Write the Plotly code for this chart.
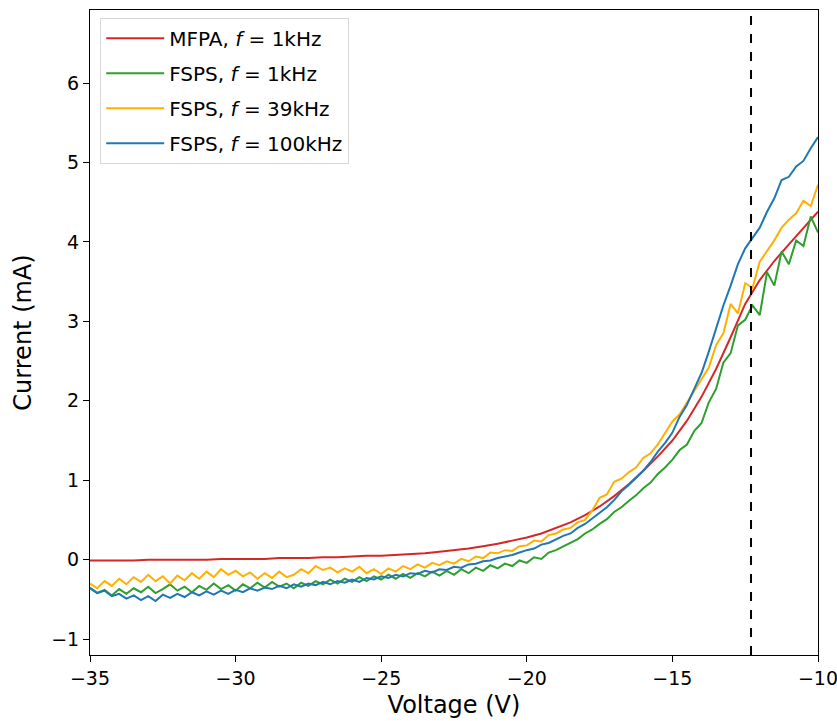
import numpy as np
import plotly.graph_objects as go

# sweep grid of the probes (V)
voltage = np.linspace(-35, -10, 101)
voltage_mfpa = np.linspace(-35, -10, 51)

mfpa_1k = [-0.01, -0.01, -0.01, -0.01, 0.00, 0.00, 0.00, 0.00, 0.00, 0.01,
           0.01, 0.01, 0.01, 0.02, 0.02, 0.02, 0.03, 0.03, 0.04, 0.05,
           0.05, 0.06, 0.07, 0.08, 0.10, 0.12, 0.14, 0.17, 0.20, 0.24,
           0.28, 0.33, 0.40, 0.47, 0.56, 0.67, 0.80, 0.95, 1.12, 1.30,
           1.50, 1.75, 2.05, 2.40, 2.80, 3.22, 3.52, 3.76, 3.97, 4.17,
           4.38]

fsps_1k = [-0.35, -0.42, -0.38, -0.45, -0.37, -0.43, -0.36, -0.41, -0.34, -0.42,
           -0.37, -0.31, -0.39, -0.34, -0.41, -0.33, -0.38, -0.30, -0.37, -0.32,
           -0.39, -0.31, -0.36, -0.29, -0.35, -0.28, -0.34, -0.30, -0.36, -0.29,
           -0.33, -0.27, -0.31, -0.25, -0.30, -0.24, -0.28, -0.22, -0.27, -0.21,
           -0.25, -0.19, -0.24, -0.18, -0.23, -0.17, -0.21, -0.15, -0.20, -0.14,
           -0.19, -0.12, -0.17, -0.10, -0.14, -0.07, -0.11, -0.05, -0.08, -0.01,
           -0.04, 0.03, 0.01, 0.09, 0.12, 0.17, 0.21, 0.26, 0.33, 0.38,
           0.45, 0.51, 0.60, 0.66, 0.74, 0.81, 0.90, 0.97, 1.08, 1.16,
           1.26, 1.38, 1.45, 1.62, 1.72, 1.98, 2.15, 2.48, 2.60, 2.95,
           3.02, 3.20, 3.08, 3.62, 3.45, 3.88, 3.72, 4.02, 3.95, 4.32,
           4.12]

fsps_39k = [-0.30, -0.36, -0.27, -0.33, -0.24, -0.31, -0.22, -0.28, -0.19, -0.27,
            -0.21, -0.30, -0.20, -0.26, -0.17, -0.24, -0.15, -0.22, -0.12, -0.19,
            -0.14, -0.21, -0.16, -0.24, -0.17, -0.23, -0.15, -0.22, -0.19, -0.12,
            -0.17, -0.08, -0.13, -0.10, -0.16, -0.11, -0.15, -0.09, -0.17, -0.12,
            -0.18, -0.11, -0.15, -0.08, -0.12, -0.06, -0.10, -0.04, -0.07, -0.02,
            -0.05, 0.01, -0.02, 0.04, 0.02, 0.09, 0.08, 0.12, 0.11, 0.17,
            0.18, 0.24, 0.23, 0.31, 0.33, 0.38, 0.40, 0.47, 0.50, 0.62,
            0.78, 0.82, 0.98, 1.02, 1.10, 1.16, 1.28, 1.34, 1.45, 1.60,
            1.74, 1.83, 1.98, 2.12, 2.28, 2.42, 2.70, 2.85, 3.22, 3.10,
            3.48, 3.42, 3.75, 3.88, 4.02, 4.18, 4.28, 4.36, 4.52, 4.45,
            4.72]

fsps_100k = [-0.36, -0.42, -0.39, -0.46, -0.43, -0.49, -0.45, -0.51, -0.46, -0.52,
             -0.44, -0.48, -0.43, -0.47, -0.41, -0.45, -0.40, -0.44, -0.39, -0.43,
             -0.38, -0.41, -0.36, -0.39, -0.35, -0.37, -0.33, -0.36, -0.31, -0.34,
             -0.30, -0.32, -0.28, -0.31, -0.27, -0.29, -0.25, -0.28, -0.23, -0.25,
             -0.21, -0.23, -0.19, -0.21, -0.17, -0.18, -0.14, -0.16, -0.12, -0.13,
             -0.09, -0.10, -0.06, -0.05, -0.02, -0.01, 0.02, 0.04, 0.06, 0.09,
             0.12, 0.14, 0.19, 0.21, 0.26, 0.30, 0.33, 0.40, 0.45, 0.52,
             0.58, 0.66, 0.75, 0.86, 0.94, 1.03, 1.12, 1.23, 1.36, 1.47,
             1.60, 1.80, 1.95, 2.15, 2.35, 2.62, 2.92, 3.20, 3.45, 3.72,
             3.92, 4.05, 4.18, 4.38, 4.55, 4.78, 4.82, 4.95, 5.02, 5.18,
             5.32]

threshold_voltage = -12.3

fig = go.Figure()
fig.add_trace(go.Scatter(x=voltage_mfpa, y=mfpa_1k, mode="lines",
                         name="MFPA, <i>f</i> = 1kHz", legendgroup="a",
                         line=dict(color="#d62728", width=2)))
fig.add_trace(go.Scatter(x=voltage, y=fsps_1k, mode="lines",
                         name="FSPS, <i>f</i> = 1kHz", legendgroup="b",
                         line=dict(color="#2ca02c", width=2)))
fig.add_trace(go.Scatter(x=voltage, y=fsps_39k, mode="lines",
                         name="FSPS, <i>f</i> = 39kHz", legendgroup="c",
                         line=dict(color="#ffb000", width=2)))
fig.add_trace(go.Scatter(x=voltage, y=fsps_100k, mode="lines",
                         name="FSPS, <i>f</i> = 100kHz", legendgroup="d",
                         line=dict(color="#1f77b4", width=2)))

fig.add_vline(x=threshold_voltage, line=dict(color="black", width=2, dash="dash"))

axis_style = dict(showline=True, linecolor="black", linewidth=1, mirror=True,
                  ticks="outside", ticklen=6, tickcolor="black",
                  showgrid=False, zeroline=False, automargin=False,
                  ticklabeloverflow="allow",
                  tickfont=dict(size=19, color="black"))

fig.update_xaxes(range=[-35, -10], dtick=5,
                 title=dict(text="Voltage (V)", font=dict(size=24, color="black"), standoff=8),
                 **axis_style)
fig.update_yaxes(range=[-1.2, 6.92], dtick=1,
                 title=dict(text="Current (mA)", font=dict(size=24, color="black"), standoff=12),
                 **axis_style)

fig.update_layout(
    width=837, height=721,
    margin=dict(l=90, r=19, t=10, b=66),
    plot_bgcolor="white", paper_bgcolor="white",
    font=dict(family="DejaVu Sans", color="black"),
    legend=dict(x=0.014, y=0.988, xanchor="left", yanchor="top",
                font=dict(size=20), bgcolor="white", tracegroupgap=6,
                itemwidth=58,
                bordercolor="#d8d8d8", borderwidth=1),
)

fig.write_html("out.html", config={"displayModeBar": False},
               post_script="document.body.style.margin='0';document.body.style.overflow='hidden';")
